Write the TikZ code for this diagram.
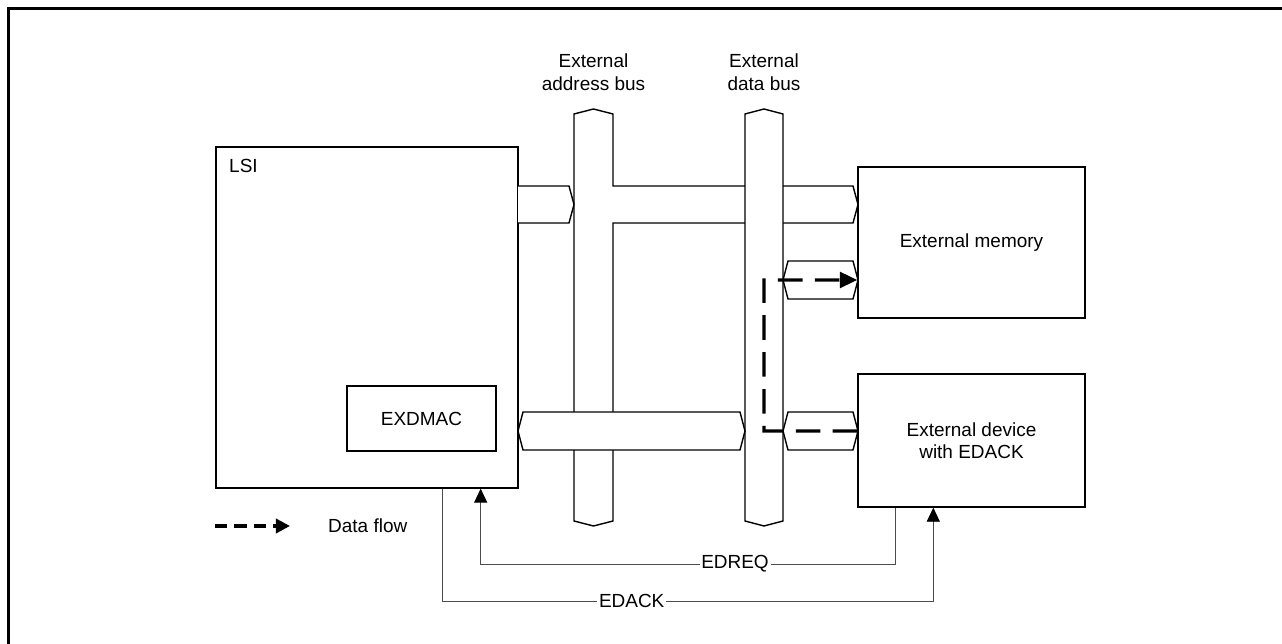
\documentclass[tikz,border=0pt]{standalone}
\usepackage{fontspec}
\setmainfont{Liberation Sans}
\usetikzlibrary{arrows.meta,positioning}

\begin{document}
\begin{tikzpicture}[
        x=0.02cm, y=-0.02cm,
        font=\fontsize{10.8}{12.8}\selectfont,
        box/.style={draw, line width=0.8pt, fill=white, inner sep=0pt, text centered},
        bus/.style={draw, line width=0.8pt, fill=white},
        sig/.style={draw=black!70, line width=0.55pt, -{Triangle[length=8pt,width=7.5pt,black]}},
        flow/.style={line width=1.9pt, dash pattern=on 14pt off 7pt, -{Triangle[length=10pt,width=9pt]}},
        lbl/.style={fill=white, inner sep=1pt}
    ]
        \useasboundingbox (0,0) rectangle (1282,644);
        \draw[line width=1.9pt, line join=miter] (8.3,644) -- (8.3,8.3) -- (1282,8.3);

        % LSI side
        \node[box, minimum width=6.04cm, minimum height=6.82cm] (lsi) at (367,317.5) {};
        \node[anchor=base west] (lsilbl) at (223,172.7) {LSI};
        \node[box, minimum width=2.98cm, minimum height=1.3cm] (exdmac) at (421.5,418.5) {EXDMAC};

        % address bus
        \path[bus] (574,114) -- (593.5,109) -- (613,114) -- (613,186) -- (853,186) -- (858,204.5)
            -- (853,223) -- (613,223) -- (613,521) -- (593.5,526) -- (574,521) -- cycle;
        \fill[white] (518,186) -- (569,186) -- (574,204.5) -- (569,223) -- (518,223) -- cycle;
        \draw[line width=0.8pt] (518,186) -- (569,186) -- (574,204.5) -- (569,223) -- (518,223);

        % data bus
        \path[bus] (745,114) -- (764,109) -- (783,114) -- (783,521) -- (764,526) -- (745,521) -- cycle;
        \path[bus] (518,431) -- (523,412) -- (740,412) -- (745,431) -- (740,450) -- (523,450) -- cycle;
        \path[bus] (783,280) -- (788,261) -- (853,261) -- (858,280) -- (853,299) -- (788,299) -- cycle;
        \path[bus] (783,431) -- (788,412) -- (853,412) -- (858,431) -- (853,450) -- (788,450) -- cycle;

        \node[align=center] (abuslbl) at (593.5,72) {External\\address bus};
        \node[align=center] (dbuslbl) at (764,72) {External\\data bus};

        % external side
        \node[box, minimum width=4.54cm, minimum height=3.02cm] (mem) at (971.5,242.5) {External memory};
        \node[box, minimum width=4.54cm, minimum height=2.66cm, align=center] (dev) at (971.5,440.5)
            {External device\\with EDACK};

        \draw[flow] ([yshift=0.19cm]dev.west) -- (764,431) -- (764,280) -- ([yshift=-0.75cm]mem.west);

        % control signals
        \draw[sig] ([xshift=0.76cm]dev.south west) -- ++(0,56.7) -| ([xshift=-0.76cm]lsi.south east);
        \draw[sig] ([xshift=-1.52cm]lsi.south east) -- ++(0,113.3) -| ([xshift=1.52cm]dev.south west);
        \node[lbl] (edreq) at (735,563.7) {EDREQ};
        \node[lbl] (edack) at (631.7,601.3) {EDACK};

        % legend
        \coordinate (lga) at (215,526);
        \coordinate (lgb) at (290,526);
        \draw[line width=1.9pt, dash pattern=on 7pt off 4pt, -{Triangle[length=8pt,width=8pt]}] (lga) -- (lgb);
        \node[anchor=west] (lgtxt) at (322,526) {Data flow};
    \end{tikzpicture}
\end{document}
